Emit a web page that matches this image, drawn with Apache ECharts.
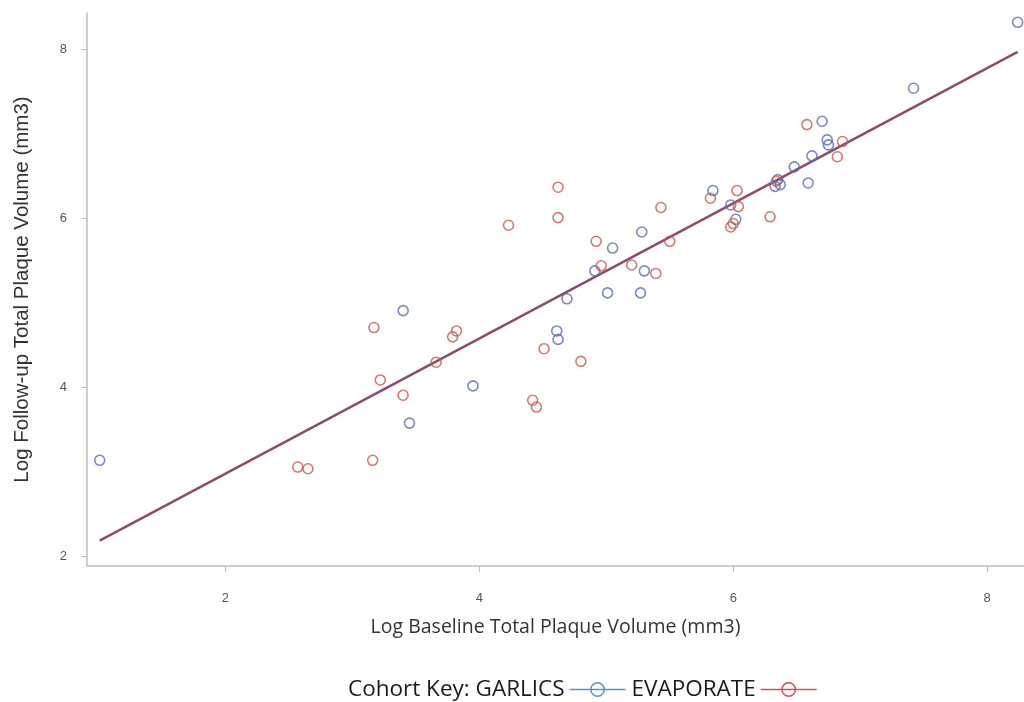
<!DOCTYPE html>
<html>
<head>
<meta charset="utf-8">
<script src="https://cdn.jsdelivr.net/npm/echarts@6/dist/echarts.min.js"></script>
<style>
  html, body { margin: 0; padding: 0; background: #fff; }
  #chart { width: 1024px; height: 702px; }
</style>
</head>
<body>
<div id="chart"></div>
<script>
// tick labels
var xTicks = [2, 4, 6, 8];
var yTicks = [2, 4, 6, 8];

// GARLICS cohort (log baseline, log follow-up)
var garlicsX = [8.24, 7.42, 6.70, 6.74, 6.75, 6.62, 6.48, 6.35, 6.33, 6.37, 6.59, 5.84, 5.98, 6.02,
  5.28, 5.05, 4.91, 5.30, 4.69, 5.01, 5.27, 4.61, 4.62, 3.40, 3.95, 3.45, 1.01];
var garlicsY = [8.32, 7.54, 7.15, 6.93, 6.87, 6.74, 6.61, 6.46, 6.38, 6.40, 6.42, 6.33, 6.16, 5.99,
  5.84, 5.65, 5.38, 5.38, 5.05, 5.12, 5.12, 4.67, 4.57, 4.91, 4.02, 3.58, 3.14];

// EVAPORATE cohort
var evaporateX = [6.58, 6.86, 6.82, 6.34, 6.03, 5.82, 6.04, 6.29, 6.00, 5.98, 4.62, 4.62, 5.43, 4.23,
  4.92, 5.50, 4.96, 5.20, 5.39, 4.51, 4.80, 4.42, 4.45, 3.17, 3.79, 3.82, 3.66, 3.22, 3.40, 3.16, 2.57, 2.65];
var evaporateY = [7.11, 6.91, 6.73, 6.44, 6.33, 6.24, 6.14, 6.02, 5.94, 5.90, 6.37, 6.01, 6.13, 5.92,
  5.73, 5.73, 5.44, 5.45, 5.35, 4.46, 4.31, 3.85, 3.77, 4.71, 4.60, 4.67, 4.30, 4.09, 3.91, 3.14, 3.06, 3.04];

// fitted regression line
var fitX = [1.01, 8.24];
var fitY = [2.19, 7.97];

function pairs(xs, ys) {
  return xs.map(function (x, i) { return [x, ys[i]]; });
}

var blue = '#5a6cb2';
var red = '#c45a4c';
var axisGray = '#bdbdbd';
// line through a ring, used as legend key
var iconPath = 'path://M0 7.3L56 7.3L56 8.7L0 8.7Z' +
  'M35.5 8A7.5 7.5 0 1 1 20.5 8A7.5 7.5 0 1 1 35.5 8Z' +
  'M34 8A6 6 0 1 0 22 8A6 6 0 1 0 34 8Z';

var chart = echarts.init(document.getElementById('chart'), null, { renderer: 'canvas' });

chart.setOption({
  animation: false,
  backgroundColor: '#fff',
  grid: { left: 87, right: 0, top: 13, bottom: 136 },
  xAxis: {
    type: 'value',
    min: 0.91,
    max: 8.29,
    name: 'Log Baseline Total Plaque Volume (mm3)',
    nameLocation: 'middle',
    nameGap: 51,
    nameTextStyle: { fontFamily: 'Open Sans', fontSize: 19.5, color: '#333' },
    axisLine: { show: true, lineStyle: { color: axisGray, width: 1.5 } },
    axisTick: { show: true, customValues: xTicks, length: 6, lineStyle: { color: axisGray } },
    axisLabel: { customValues: xTicks, margin: 26, fontFamily: 'Liberation Sans', fontSize: 13, color: '#555' },
    splitLine: { show: false }
  },
  yAxis: {
    type: 'value',
    min: 1.89,
    max: 8.43,
    name: 'Log Follow-up Total Plaque Volume (mm3)',
    nameLocation: 'middle',
    nameGap: 54,
    nameTextStyle: { fontFamily: 'Liberation Sans', fontSize: 20.5, color: '#333' },
    axisLine: { show: true, lineStyle: { color: axisGray, width: 1.5 } },
    axisTick: { show: true, customValues: yTicks, length: 6, lineStyle: { color: axisGray } },
    axisLabel: { customValues: yTicks, margin: 20, fontFamily: 'Liberation Sans', fontSize: 13, color: '#555' },
    splitLine: { show: false }
  },
  legend: {
    left: 343,
    top: 673,
    align: 'right',
    itemWidth: 56,
    itemHeight: 16,
    itemGap: 6,
    textStyle: { fontFamily: 'Open Sans', fontSize: 22.5, color: '#1a1a1a' },
    formatter: function (name) {
      return name === 'GARLICS' ? 'Cohort Key: GARLICS' : name;
    },
    data: [
      { name: 'GARLICS', icon: iconPath, itemStyle: { color: '#2f78c0', borderWidth: 0 } },
      { name: 'EVAPORATE', icon: iconPath, itemStyle: { color: '#c8232b', borderWidth: 0 } }
    ]
  },
  series: [
    {
      name: 'GARLICS',
      type: 'scatter',
      symbol: 'circle',
      symbolSize: 10,
      itemStyle: { color: 'rgba(0,0,0,0)', borderColor: blue, borderWidth: 1.6 },
      data: pairs(garlicsX, garlicsY),
      z: 3
    },
    {
      name: 'EVAPORATE',
      type: 'scatter',
      symbol: 'circle',
      symbolSize: 10,
      itemStyle: { color: 'rgba(0,0,0,0)', borderColor: red, borderWidth: 1.6 },
      data: pairs(evaporateX, evaporateY),
      z: 3
    },
    {
      name: 'fit',
      type: 'line',
      showSymbol: false,
      data: pairs(fitX, fitY),
      lineStyle: { color: '#8e4c6c', width: 2.5 },
      z: 2
    }
  ]
});
</script>
</body>
</html>
